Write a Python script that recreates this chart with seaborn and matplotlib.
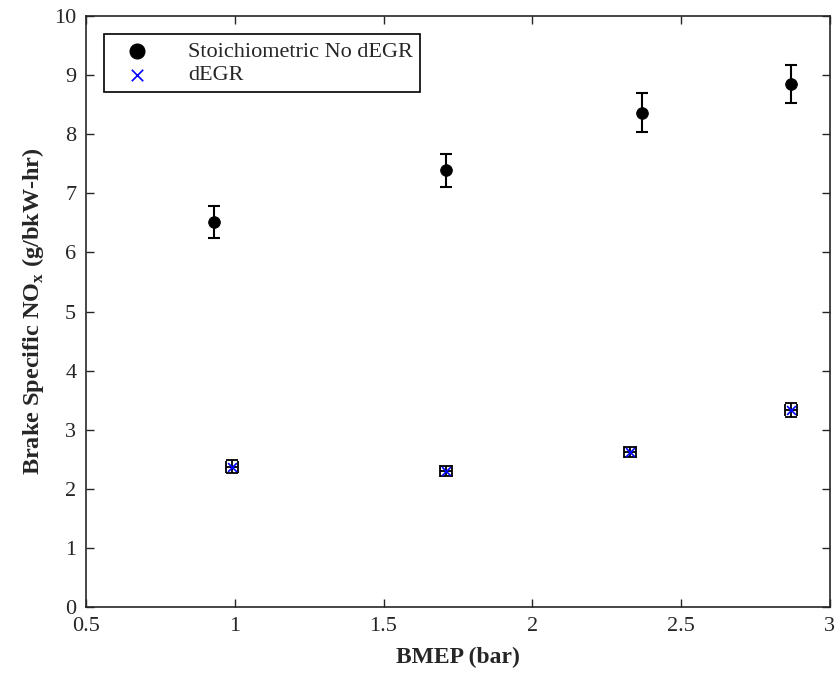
import pandas as pd
import matplotlib.pyplot as plt
import numpy as np
import seaborn as sns

# Data
bmep_stoich = [0.93, 1.71, 2.37, 2.87]
nox_stoich = [6.52, 7.39, 8.36, 8.85]
err_stoich = [0.27, 0.28, 0.33, 0.32]

bmep_degr = [0.99, 1.71, 2.33, 2.87]
nox_degr = [2.37, 2.30, 2.62, 3.33]
err_degr = [0.11, 0.08, 0.08, 0.12]
xerr_degr = [0.02, 0.02, 0.02, 0.02]

df_stoich = pd.DataFrame({'BMEP': bmep_stoich, 'NOx': nox_stoich})
df_degr = pd.DataFrame({'BMEP': bmep_degr, 'NOx': nox_degr})

sns.set_style('ticks')
plt.rcParams['font.family'] = ['Liberation Serif', 'DejaVu Serif']
plt.rcParams['mathtext.fontset'] = 'custom'
plt.rcParams['mathtext.rm'] = 'Liberation Serif'
plt.rcParams['mathtext.bf'] = 'Liberation Serif:bold'

fig = plt.figure(figsize=(8.39, 6.82), dpi=100)
ax = fig.add_axes([0.1025, 0.110, 0.8865, 0.8665])

# Error bars first, markers on top
ax.errorbar(bmep_stoich, nox_stoich, yerr=err_stoich, fmt='none', ecolor='black',
            elinewidth=1.5, capsize=4.5, capthick=1.5, zorder=2)
ax.errorbar(bmep_degr, nox_degr, yerr=err_degr, xerr=xerr_degr, fmt='none', ecolor='black',
            elinewidth=1.3, capsize=4.5, capthick=1.3, zorder=2)

sns.scatterplot(data=df_stoich, x='BMEP', y='NOx', color='black', marker='o', s=70,
                edgecolor='black', label='Stoichiometric No dEGR', ax=ax, zorder=3)
sns.scatterplot(data=df_degr, x='BMEP', y='NOx', color='#0000ff', marker='x', s=40,
                linewidth=1.2, label='dEGR', ax=ax, zorder=3)

ax.set(xlim=(0.5, 3), ylim=(0, 10))
ax.set_xticks([0.5, 1, 1.5, 2, 2.5, 3])
ax.set_xticklabels(['0.5', '1', '1.5', '2', '2.5', '3'])
ax.set_yticks(range(0, 11))
ax.tick_params(direction='in', top=True, right=True, labelsize=16, length=6, width=1, pad=7)
for s in ax.spines.values():
    s.set_linewidth(1.2)

ax.set_xlabel('BMEP (bar)', fontsize=17, fontweight='bold', labelpad=8)
ax.set_ylabel(r'Brake Specific NO$_\mathbf{x}$ (g/bkW-hr)', fontsize=17.5, fontweight='bold', labelpad=6)

leg = ax.legend(loc='upper left', bbox_to_anchor=(0.024, 0.969),
                fontsize=16, frameon=True, fancybox=False, edgecolor='black',
                borderpad=0.3, handletextpad=1.1, handlelength=2.4,
                labelspacing=0.15, borderaxespad=0, markerscale=1.3)
leg.get_frame().set_linewidth(1.2)
leg.get_frame().set_alpha(1)

fig.savefig('out.png', dpi=100)
